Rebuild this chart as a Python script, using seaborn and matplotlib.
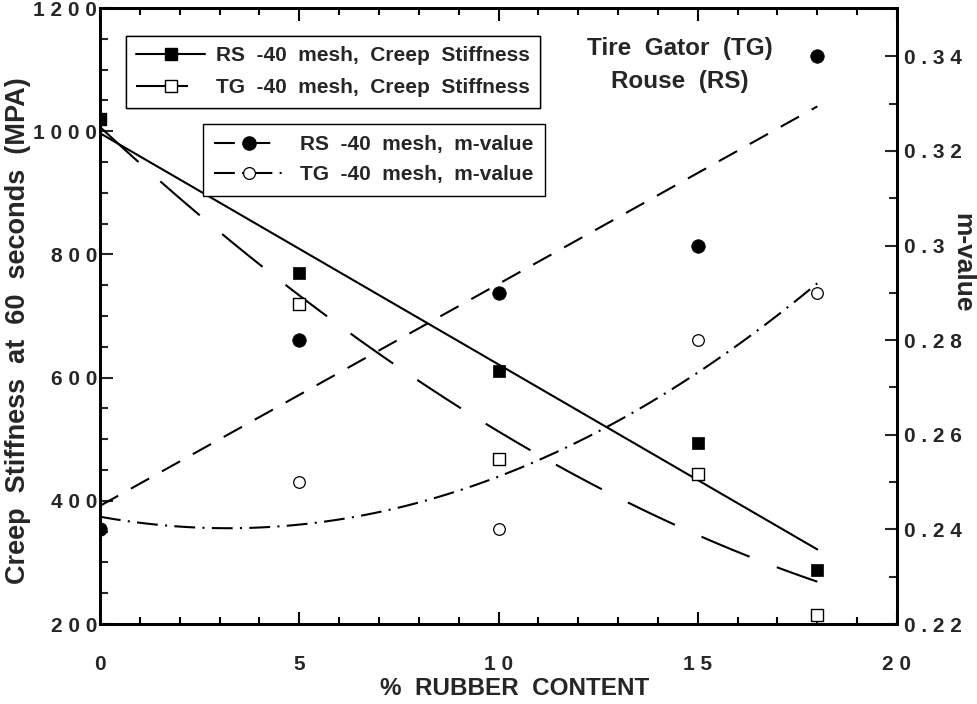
import numpy as np
import pandas as pd
import matplotlib
matplotlib.use("Agg")
import matplotlib.pyplot as plt
import seaborn as sns
from matplotlib.lines import Line2D
from matplotlib.ticker import MultipleLocator, FixedLocator, FixedFormatter

# ---------------- data ----------------
rubber = [0, 5, 10, 15, 18]
rs_stiff = [1020, 770, 610, 494, 288]
tg_stiff = [1020, 720, 468, 443, 215]
rs_m = [0.240, 0.280, 0.290, 0.300, 0.340]
tg_m = [0.240, 0.250, 0.240, 0.280, 0.290]

x_ticks = [0, 5, 10, 15, 20]
x_ticklabels = ["0", "5", "1 0", "1 5", "2 0"]
y_ticks = [200, 400, 600, 800, 1000, 1200]
y_ticklabels = ["2 0 0", "4 0 0", "6 0 0", "8 0 0", "1 0 0 0", "1 2 0 0"]
m_ticks = [0.22, 0.24, 0.26, 0.28, 0.30, 0.32, 0.34]
m_ticklabels = ["0 . 2 2", "0 . 2 4", "0 . 2 6", "0 . 2 8", "0 . 3", "0 . 3 2", "0 . 3 4"]

df = pd.DataFrame({"rubber": rubber, "rs_stiff": rs_stiff, "tg_stiff": tg_stiff,
                   "rs_m": rs_m, "tg_m": tg_m})

# ---------------- style ----------------
sns.set_style("ticks")
plt.rcParams["font.family"] = ["Liberation Sans", "DejaVu Sans"]
plt.rcParams["font.weight"] = "bold"

fig = plt.figure(figsize=(9.77, 7.04), dpi=100)
ax = fig.add_axes([100 / 977, 80 / 704, 797 / 977, 616 / 704])
ax2 = ax.twinx()

LW = 1.5
dash_tg_s = (25, 14)
dash_rs_m = (10, 7)
dash_tg_m = (10, 3.5, 1, 3.5)

# fit lines
sns.regplot(data=df, x="rubber", y="rs_stiff", order=1, ci=None, scatter=False, ax=ax,
            line_kws=dict(color="black", lw=LW))
sns.regplot(data=df, x="rubber", y="tg_stiff", order=2, ci=None, scatter=False, ax=ax,
            line_kws=dict(color="black", lw=LW, dashes=dash_tg_s))
sns.regplot(data=df, x="rubber", y="rs_m", order=1, ci=None, scatter=False, ax=ax2,
            line_kws=dict(color="black", lw=LW, dashes=dash_rs_m))
sns.regplot(data=df, x="rubber", y="tg_m", order=2, ci=None, scatter=False, ax=ax2,
            line_kws=dict(color="black", lw=LW, dashes=dash_tg_m))

# markers
sns.scatterplot(data=df, x="rubber", y="tg_stiff", marker="s", s=75, facecolor="white",
                edgecolor="black", linewidth=1.0, ax=ax, zorder=5)
sns.scatterplot(data=df, x="rubber", y="rs_stiff", marker="s", s=85, color="black",
                edgecolor="black", linewidth=0.5, ax=ax, zorder=6)
sns.scatterplot(data=df, x="rubber", y="tg_m", marker="o", s=70, facecolor="white",
                edgecolor="black", linewidth=0.9, ax=ax2, zorder=5)
sns.scatterplot(data=df, x="rubber", y="rs_m", marker="o", s=95, color="black",
                edgecolor="black", linewidth=0.5, ax=ax2, zorder=6)

# ---------------- axes ----------------
ax.set_xlim(0, 20)
ax.set_ylim(200, 1200)
ax2.set_ylim(0.22, 0.3502)

FS = 15
ax.xaxis.set_major_locator(FixedLocator(x_ticks))
ax.xaxis.set_major_formatter(FixedFormatter(x_ticklabels))
ax.xaxis.set_minor_locator(MultipleLocator(1))
ax.yaxis.set_major_locator(FixedLocator(y_ticks))
ax.yaxis.set_major_formatter(FixedFormatter(y_ticklabels))
ax.yaxis.set_minor_locator(MultipleLocator(50))
ax2.yaxis.set_major_locator(FixedLocator(m_ticks))
ax2.yaxis.set_major_formatter(FixedFormatter(m_ticklabels))
ax2.yaxis.set_minor_locator(MultipleLocator(0.01))

for a in (ax, ax2):
    for sp in a.spines.values():
        sp.set_visible(True)
        sp.set_linewidth(2.0)
        sp.set_color("black")

ax.tick_params(axis="x", which="both", direction="in", top=True, bottom=True,
               labelsize=FS, pad=22, width=1.5, color="black")
ax.tick_params(axis="x", which="major", length=9)
ax.tick_params(axis="x", which="minor", length=5)
ax.tick_params(axis="y", which="both", direction="in", left=True, right=False,
               labelsize=FS, pad=2, width=1.5)
ax.tick_params(axis="y", which="major", length=9)
ax.tick_params(axis="y", which="minor", length=6)
ax2.tick_params(axis="y", which="both", direction="in", left=False, right=True,
                labelsize=FS, pad=5, width=1.5)
ax2.tick_params(axis="y", which="major", length=9)
ax2.tick_params(axis="y", which="minor", length=6)
for lab in ax.get_xticklabels() + ax.get_yticklabels() + ax2.get_yticklabels():
    lab.set_fontweight("bold")

ax.set_xlabel("%  RUBBER  CONTENT", fontsize=17.5, fontweight="bold")
ax.xaxis.set_label_coords(0.52, -0.086)
ax.set_ylabel("Creep  Stiffness  at  60  seconds  (MPA)", fontsize=19.5, fontweight="bold")
ax.yaxis.set_label_coords(-0.086, 0.476)
ax2.set_ylabel("m-value", fontsize=19, fontweight="bold", rotation=-90, va="center")
ax2.yaxis.set_label_coords(1.0816, 0.586)

# annotation text
ax.text(0.727, 0.935, "Tire  Gator  (TG)", transform=ax.transAxes, ha="center",
        va="center", fontsize=17.5, fontweight="bold")
ax.text(0.727, 0.881, "Rouse  (RS)", transform=ax.transAxes, ha="center",
        va="center", fontsize=17.5, fontweight="bold")

# ---------------- legends ----------------
h1 = [Line2D([], [], color="black", lw=LW, marker="s", ms=9, mfc="black", mec="black"),
      Line2D([], [], color="black", lw=LW, dashes=dash_tg_s, marker="s", ms=9, mfc="white",
             mec="black", mew=1.0)]
leg1 = ax.legend(h1, ["RS  -40  mesh,  Creep  Stiffness", "TG  -40  mesh,  Creep  Stiffness"],
                 loc="upper left", bbox_to_anchor=(0.0326, 0.9545), borderaxespad=0,
                 frameon=True, fancybox=False, edgecolor="black", framealpha=1,
                 handlelength=3.3, borderpad=0.5, labelspacing=0.62, handletextpad=0.5,
                 prop=dict(size=15, weight="bold"))
leg1.get_frame().set_linewidth(1.0)
ax.add_artist(leg1)

h2 = [Line2D([], [], color="black", lw=LW, dashes=dash_rs_m, marker="o", ms=9.5,
             mfc="black", mec="black"),
      Line2D([], [], color="black", lw=LW, dashes=dash_tg_m, marker="o", ms=8.5,
             mfc="white", mec="black", mew=0.9)]
leg2 = ax2.legend(h2, ["RS  -40  mesh,  m-value", "TG  -40  mesh,  m-value"],
                  loc="upper left", bbox_to_anchor=(0.129, 0.8117), borderaxespad=0,
                  frameon=True, fancybox=False, edgecolor="black", framealpha=1,
                  handlelength=3.3, borderpad=0.55, labelspacing=0.52, handletextpad=0.8,
                  prop=dict(size=15, weight="bold"))
leg2.get_frame().set_linewidth(1.0)
leg2.set_zorder(10)

fig.savefig("out.png", dpi=100)
